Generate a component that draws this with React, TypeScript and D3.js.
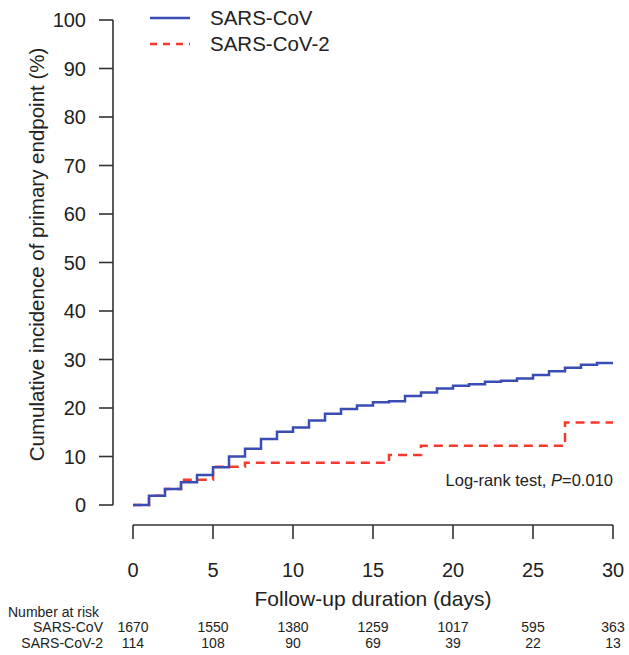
import React from "react";
import * as d3 from "d3";

const covTimes = [0, 1, 2, 3, 4, 5, 6, 7, 8, 9, 10, 11, 12, 13, 14, 15, 16, 17, 18, 19, 20, 21, 22, 23, 24, 25, 26, 27, 28, 29, 30];
const covValues = [0, 1.9, 3.3, 4.7, 6.2, 7.8, 10.0, 11.6, 13.6, 15.1, 16.0, 17.4, 18.8, 19.8, 20.5, 21.2, 21.4, 22.5, 23.2, 24.0, 24.6, 24.9, 25.4, 25.6, 26.1, 26.8, 27.6, 28.3, 28.9, 29.3, 29.3];
const cov2Times = [0, 1, 2, 3, 5, 7, 16, 18, 27, 30];
const cov2Values = [0, 1.9, 3.3, 5.2, 7.9, 8.7, 10.3, 12.2, 17.0, 17.0];

const xTicks = [0, 5, 10, 15, 20, 25, 30];
const yTicks = [0, 10, 20, 30, 40, 50, 60, 70, 80, 90, 100];
const riskCov = ["1670", "1550", "1380", "1259", "1017", "595", "363"];
const riskCov2 = ["114", "108", "90", "69", "39", "22", "13"];
const seriesNames = ["SARS-CoV", "SARS-CoV-2"];

const BLUE = "#3a4db4";
const RED = "#f5392d";
const AX = "#333";
const FONT = "Liberation Sans, Arial, sans-serif";

export default function App() {
  const x = d3.scaleLinear().domain([0, 30]).range([133, 613]);
  const y = d3.scaleLinear().domain([0, 100]).range([505, 20]);
  const line = d3
    .line<[number, number]>()
    .x((d) => x(d[0]))
    .y((d) => y(d[1]))
    .curve(d3.curveStepAfter);
  const covPts = covTimes.map((t, i) => [t, covValues[i]] as [number, number]);
  const cov2Pts = cov2Times.map((t, i) => [t, cov2Values[i]] as [number, number]);
  const axisY = 525;
  const yAxisX = 113;

  return (
    <svg
      width={629}
      height={655}
      style={{ position: "absolute", left: 0, top: 0, background: "#fff" }}
      fontFamily={FONT}
    >
      {/* y axis */}
      <line x1={yAxisX} x2={yAxisX} y1={y(0)} y2={y(100)} stroke={AX} strokeWidth={1.6} />
      {yTicks.map((t) => (
        <g key={"y" + t}>
          <line x1={yAxisX - 14} x2={yAxisX} y1={y(t)} y2={y(t)} stroke={AX} strokeWidth={1.6} />
          <text x={86} y={y(t)} dy="0.36em" textAnchor="end" fontSize={20} fill="#222">
            {t}
          </text>
        </g>
      ))}
      {/* x axis */}
      <line x1={x(0)} x2={x(30)} y1={axisY} y2={axisY} stroke={AX} strokeWidth={1.6} />
      {xTicks.map((t) => (
        <g key={"x" + t}>
          <line x1={x(t)} x2={x(t)} y1={axisY} y2={axisY + 14} stroke={AX} strokeWidth={1.6} />
          <text x={x(t)} y={577} textAnchor="middle" fontSize={20} fill="#222">
            {t}
          </text>
        </g>
      ))}
      <text x={x(15)} y={606} textAnchor="middle" fontSize={21} fill="#222">
        Follow-up duration (days)
      </text>
      <text
        transform={`translate(44,${y(50) - 8}) rotate(-90)`}
        textAnchor="middle"
        fontSize={20.5}
        fill="#222"
      >
        Cumulative incidence of primary endpoint (%)
      </text>

      {/* curves */}
      <path d={line(cov2Pts) || ""} fill="none" stroke={RED} strokeWidth={2.5} strokeDasharray="9,6" />
      <path d={line(covPts) || ""} fill="none" stroke={BLUE} strokeWidth={2.5} />

      {/* legend */}
      <line x1={150} x2={190} y1={18} y2={18} stroke={BLUE} strokeWidth={2.5} />
      <text x={210} y={25} fontSize={20.5} fill="#222">{seriesNames[0]}</text>
      <line x1={150} x2={190} y1={44} y2={44} stroke={RED} strokeWidth={2.5} strokeDasharray="7,6" />
      <text x={210} y={51} fontSize={20.5} fill="#222">{seriesNames[1]}</text>

      <text x={613} y={486} textAnchor="end" fontSize={16.5} fill="#222">
        Log-rank test, <tspan fontStyle="italic">P</tspan>=0.010
      </text>

      {/* risk table */}
      <text x={8} y={617} fontSize={14} fill="#222">Number at risk</text>
      <text x={103} y={632} textAnchor="end" fontSize={14} fill="#222">{seriesNames[0]}</text>
      <text x={103} y={648} textAnchor="end" fontSize={14} fill="#222">{seriesNames[1]}</text>
      {xTicks.map((t, i) => (
        <g key={"r" + t}>
          <text x={x(t)} y={632} textAnchor="middle" fontSize={14} fill="#222">{riskCov[i]}</text>
          <text x={x(t)} y={648} textAnchor="middle" fontSize={14} fill="#222">{riskCov2[i]}</text>
        </g>
      ))}
    </svg>
  );
}
